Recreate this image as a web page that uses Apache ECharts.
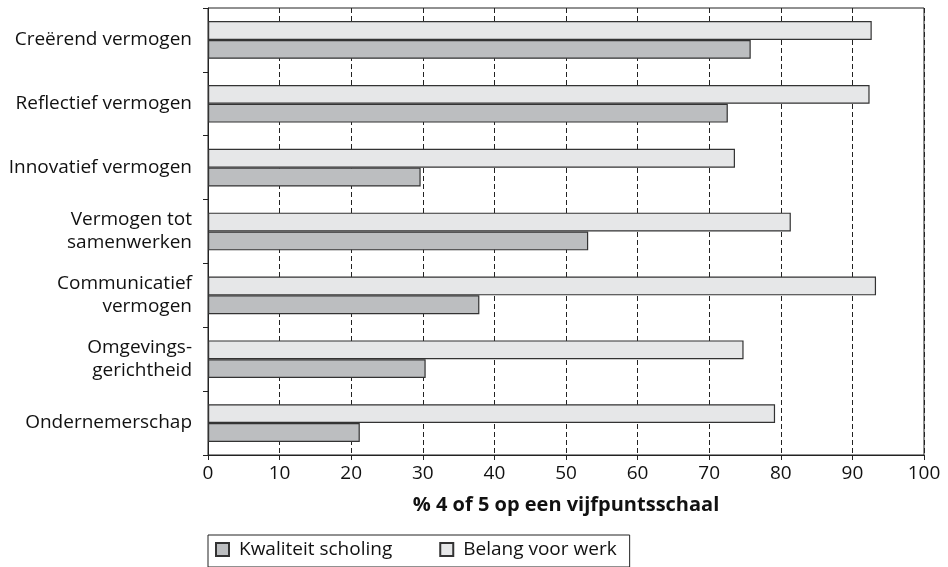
<!DOCTYPE html>
<html>
<head>
<meta charset="utf-8">
<script src="https://cdn.jsdelivr.net/npm/echarts@6/dist/echarts.min.js"></script>
<style>
  html, body { margin: 0; padding: 0; background: #fff; }
  #chart { width: 948px; height: 567px; }
</style>
</head>
<body>
<div id="chart"></div>
<script>
// categories, top to bottom
var categories = [
  "Creërend vermogen",
  "Reflectief vermogen",
  "Innovatief vermogen",
  "Vermogen tot\nsamenwerken",
  "Communicatief\nvermogen",
  "Omgevings-\ngerichtheid",
  "Ondernemerschap"
];
var belangVoorWerk = [92.7, 92.4, 73.6, 81.4, 93.3, 74.8, 79.2];
var kwaliteitScholing = [75.8, 72.6, 29.7, 53.1, 37.9, 30.4, 21.2];
var xTicks = [0, 10, 20, 30, 40, 50, 60, 70, 80, 90, 100];

var fontName = "Open Sans";
var myChart = echarts.init(document.getElementById("chart"));
myChart.setOption({
  animation: false,
  grid: {
    left: 208,
    right: 24,
    top: 8,
    bottom: 112,
    show: true,
    borderColor: "#222",
    borderWidth: 1
  },
  legend: {
    data: ["Kwaliteit scholing", "Belang voor werk"],
    left: 208,
    top: 535,
    orient: "horizontal",
    icon: "rect",
    itemWidth: 13,
    itemHeight: 13,
    itemGap: 47,
    padding: [5, 13, 8, 7],
    borderColor: "#222",
    borderWidth: 1,
    textStyle: {
      fontFamily: fontName,
      fontSize: 19,
      color: "#111",
      padding: [0, 0, 0, 5]
    }
  },
  xAxis: {
    type: "value",
    min: xTicks[0],
    max: xTicks[xTicks.length - 1],
    interval: 10,
    name: "% 4 of 5 op een vijfpuntsschaal",
    nameLocation: "middle",
    nameGap: 40,
    nameTextStyle: {
      fontFamily: fontName,
      fontSize: 20,
      fontWeight: "bold",
      color: "#111"
    },
    axisLine: { show: true, lineStyle: { color: "#222", width: 1 } },
    axisTick: { show: true, length: 5, lineStyle: { color: "#222" } },
    axisLabel: {
      fontFamily: fontName,
      fontSize: 19,
      color: "#111",
      margin: 9
    },
    splitLine: {
      show: true,
      lineStyle: { color: "#222", type: [5, 3], width: 1 }
    }
  },
  yAxis: {
    type: "category",
    inverse: true,
    data: categories,
    axisLine: { show: true, lineStyle: { color: "#222", width: 1 } },
    axisTick: { show: true, length: 5, lineStyle: { color: "#222" } },
    axisLabel: {
      fontFamily: fontName,
      fontSize: 19,
      color: "#111",
      margin: 16,
      lineHeight: 23,
      align: "right"
    },
    splitLine: { show: false }
  },
  series: [
    {
      name: "Belang voor werk",
      type: "bar",
      data: belangVoorWerk,
      barGap: "0%",
      barCategoryGap: "41%",
      itemStyle: {
        color: "#e6e7e8",
        borderColor: "#333",
        borderWidth: 1.2
      }
    },
    {
      name: "Kwaliteit scholing",
      type: "bar",
      data: kwaliteitScholing,
      barGap: "0%",
      barCategoryGap: "41%",
      itemStyle: {
        color: "#bcbec0",
        borderColor: "#333",
        borderWidth: 1.2
      }
    }
  ]
});
</script>
</body>
</html>
